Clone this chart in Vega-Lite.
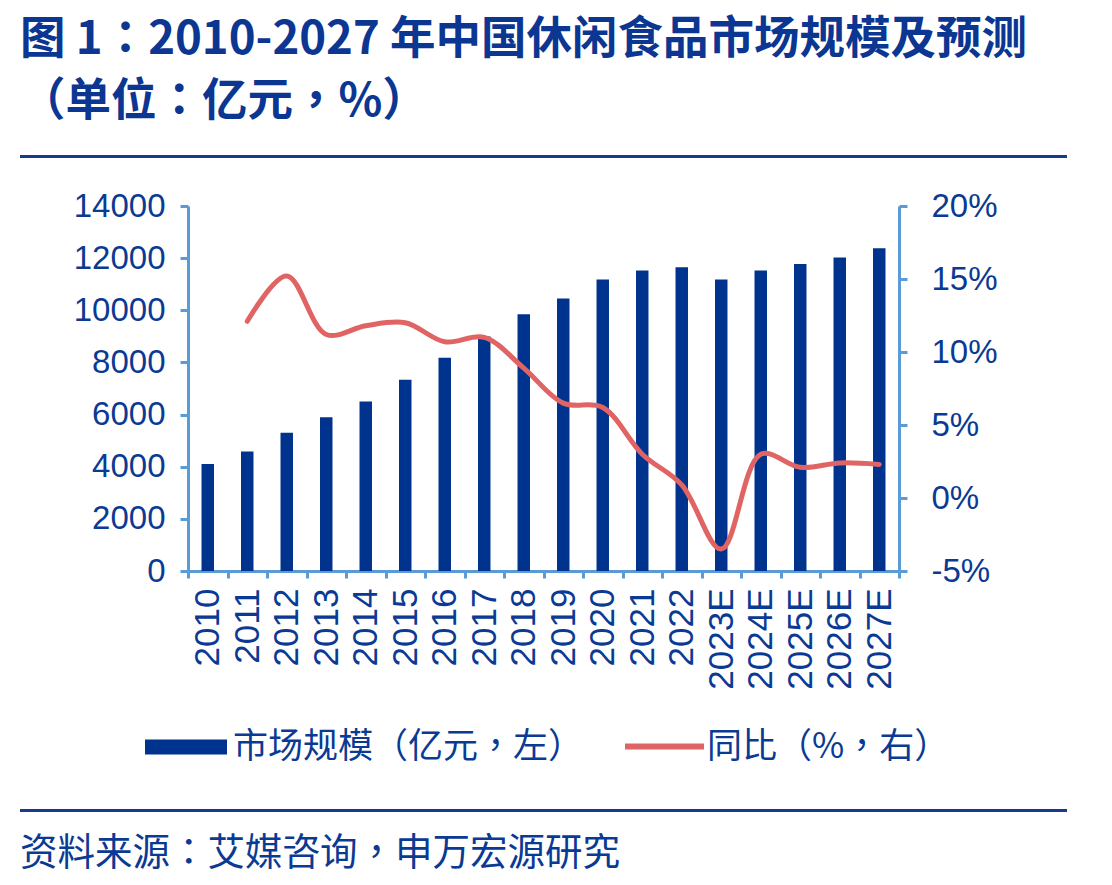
{
  "$schema": "https://vega.github.io/schema/vega-lite/v6.json",
  "background": "white",
  "padding": {"left": 20, "top": 17, "right": 0, "bottom": 10},
  "config": {
    "font": "Liberation Sans",
    "view": {"stroke": null},
    "axis": {"grid": false, "title": null}
  },
  "title": {
    "text": ["图 1：2010-2027 年中国休闲食品市场规模及预测", "（单位：亿元，%）"],
    "anchor": "start",
    "frame": "group",
    "font": "Noto Sans CJK TC",
    "fontWeight": "bold",
    "fontSize": 45.5,
    "lineHeight": 62,
    "color": "#0B3692",
    "offset": 30
  },
  "datasets": {
    "market": [
      {"year": "2010", "size": 4100, "yoy": null},
      {"year": "2011", "size": 4580, "yoy": 12.1},
      {"year": "2012", "size": 5300, "yoy": 15.2},
      {"year": "2013", "size": 5900, "yoy": 11.2},
      {"year": "2014", "size": 6500, "yoy": 11.8},
      {"year": "2015", "size": 7340, "yoy": 12.0},
      {"year": "2016", "size": 8180, "yoy": 10.7},
      {"year": "2017", "size": 8990, "yoy": 11.0},
      {"year": "2018", "size": 9850, "yoy": 8.9},
      {"year": "2019", "size": 10450, "yoy": 6.5},
      {"year": "2020", "size": 11180, "yoy": 6.2},
      {"year": "2021", "size": 11530, "yoy": 3.0},
      {"year": "2022", "size": 11650, "yoy": 0.9},
      {"year": "2023E", "size": 11180, "yoy": -3.5},
      {"year": "2024E", "size": 11530, "yoy": 3.0},
      {"year": "2025E", "size": 11780, "yoy": 2.1},
      {"year": "2026E", "size": 12020, "yoy": 2.4},
      {"year": "2027E", "size": 12380, "yoy": 2.3}
    ],
    "blank": []
  },
  "vconcat": [
    {
      "width": 1047,
      "height": 3,
      "data": {"name": "blank"},
      "mark": {"type": "rule"},
      "encoding": {},
      "view": {"fill": "#17398F", "stroke": null}
    },
    {
      "width": 711,
      "height": 365,
      "data": {"name": "market"},
      "encoding": {
        "x": {
          "field": "year",
          "type": "ordinal",
          "sort": null,
          "scale": {"paddingInner": 0, "paddingOuter": 0},
          "axis": {
            "tickBand": "extent",
            "labelAngle": 270,
            "labelAlign": "right",
            "labelBaseline": "middle",
            "labelFontSize": 35,
            "labelColor": "#0A3A93",
            "labelPadding": 10,
            "domainColor": "#5B9BD5",
            "domainWidth": 3,
            "tickColor": "#5B9BD5",
            "tickWidth": 3,
            "tickSize": 7
          }
        }
      },
      "layer": [
        {
          "mark": {"type": "bar", "width": {"band": 0.316}},
          "encoding": {
            "y": {
              "field": "size",
              "type": "quantitative",
              "scale": {"domain": [0, 14000], "nice": false},
              "axis": {
                "values": [0, 2000, 4000, 6000, 8000, 10000, 12000, 14000],
                "format": "d",
                "labelFontSize": 33,
                "labelColor": "#0A3A93",
                "labelPadding": 15,
                "domainColor": "#5B9BD5",
                "domainWidth": 3,
                "tickColor": "#5B9BD5",
                "tickWidth": 3,
                "tickSize": 8
              }
            },
            "color": {
              "datum": "市场规模（亿元，左）",
              "scale": {"range": ["#00338D"]},
              "legend": {
                "orient": "none",
                "legendX": 125,
                "legendY": 551,
                "title": null,
                "padding": 0,
                "symbolType": "M-1,-0.183H1V0.183H-1Z",
                "symbolSize": 6724,
                "symbolStrokeWidth": 0,
                "labelFont": "Noto Sans CJK TC",
                "labelFontSize": 35,
                "labelColor": "#0A3A93",
                "labelOffset": 6,
                "labelLimit": 600
              }
            }
          }
        },
        {
          "transform": [{"filter": "datum.yoy != null"}],
          "mark": {"type": "line", "interpolate": "catmull-rom", "strokeWidth": 5, "strokeCap": "round"},
          "encoding": {
            "y": {
              "field": "yoy",
              "type": "quantitative",
              "scale": {"domain": [-5, 20], "nice": false},
              "axis": {
                "orient": "right",
                "values": [-5, 0, 5, 10, 15, 20],
                "labelExpr": "datum.value + '%'",
                "labelFontSize": 33,
                "labelColor": "#0A3A93",
                "labelPadding": 24,
                "domainColor": "#5B9BD5",
                "domainWidth": 3,
                "tickColor": "#5B9BD5",
                "tickWidth": 3,
                "tickSize": 8
              }
            },
            "stroke": {
              "datum": "同比（%，右）",
              "scale": {"range": ["#E06464"]},
              "legend": {
                "orient": "none",
                "legendX": 602,
                "legendY": 549,
                "title": null,
                "padding": 0,
                "symbolType": "stroke",
                "symbolSize": 6241,
                "symbolStrokeWidth": 6,
                "labelFont": "Noto Sans CJK TC",
                "labelFontSize": 35,
                "labelColor": "#0A3A93",
                "labelOffset": 0,
                "labelLimit": 600
              }
            }
          }
        }
      ],
      "resolve": {"scale": {"y": "independent"}}
    },
    {
      "width": 1,
      "height": 142,
      "data": {"name": "blank"},
      "mark": {"type": "rule"},
      "encoding": {}
    },
    {
      "width": 1047,
      "height": 3,
      "data": {"name": "blank"},
      "mark": {"type": "rule"},
      "encoding": {},
      "view": {"fill": "#17398F", "stroke": null},
      "title": {
        "text": "资料来源：艾媒咨询，申万宏源研究",
        "orient": "bottom",
        "anchor": "start",
        "frame": "group",
        "font": "Noto Sans CJK TC",
        "fontWeight": "normal",
        "fontSize": 37.5,
        "color": "#0A3A93",
        "offset": 23
      }
    }
  ],
  "spacing": 48,
  "center": true,
  "bounds": "flush"
}
